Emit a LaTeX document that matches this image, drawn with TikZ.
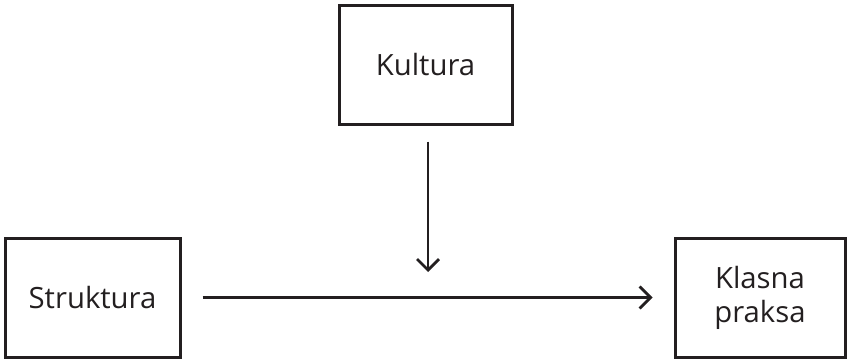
\documentclass[tikz,border=0pt]{standalone}
\usepackage{fontspec}
\setmainfont{Open Sans}
\usetikzlibrary{arrows.meta}
\newlength{\du}
\setlength{\du}{0.03cm}
\definecolor{dialinecolor}{rgb}{0.137255, 0.121569, 0.125490}
\tikzset{
  box/.style={draw=dialinecolor, line width=3\du, minimum width=173\du,
    minimum height=119\du, align=center, text=dialinecolor,
    font=\fontsize{25}{29}\selectfont, inner sep=0pt},
  arr/.style={draw=dialinecolor, line width=2.7\du,
    -{Straight Barb[length=0.33cm, width=0.66cm, line width=0.08cm]}}
}

\begin{document}
\begin{tikzpicture}
\pgftransformxscale{1.000000}
\pgftransformyscale{-1.000000}
\useasboundingbox (0\du,0\du) rectangle (847\du,358\du);
% boxes
\node[box] (kultura) at (425.5\du,64.5\du) {Kultura};
\node[box, minimum width=175\du] (struktura) at (92.5\du,297.5\du) {Struktura};
\node[box, minimum width=170\du] (praksa) at (760\du,297.5\du) {Klasna\\praksa};
\coordinate (cilj) at (428\du,272\du);
% arrows
\draw[arr, shorten <=16\du] (kultura.south -| cilj) -- (cilj);
\draw[arr, shorten <=21\du, shorten >=21\du] (struktura) -- (praksa);
\end{tikzpicture}
\end{document}
